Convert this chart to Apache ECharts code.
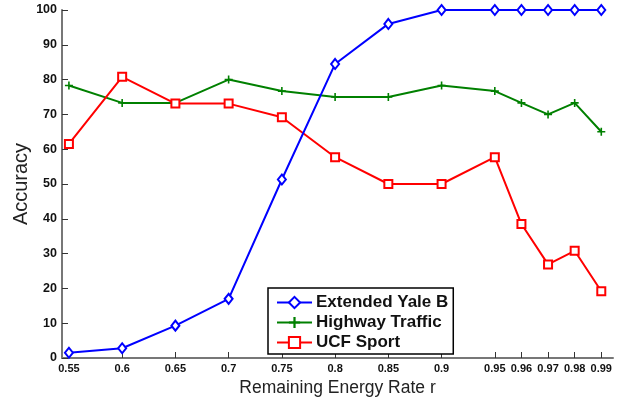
<!DOCTYPE html>
<html>
<head>
<meta charset="utf-8">
<script src="https://cdn.jsdelivr.net/npm/echarts@6/dist/echarts.min.js"></script>
<style>
  html, body { margin: 0; padding: 0; background: #fff; }
  #chart { width: 619px; height: 398px; }
</style>
</head>
<body>
<div id="chart"></div>
<script>
// x categories (rate r) and where each one sits on the axis
var rates = ['0.55', '0.6', '0.65', '0.7', '0.75', '0.8', '0.85', '0.9', '0.95', '0.96', '0.97', '0.98', '0.99']
var ratePos = [0, 1, 2, 3, 4, 5, 6, 7, 8, 8.5, 9, 9.5, 10]

var yaleB = [1.5, 2.8, 9.3, 17, 51.3, 84.5, 96, 100, 100, 100, 100, 100, 100]
var highway = [78.3, 73.3, 73.3, 80, 76.7, 75, 75, 78.3, 76.7, 73.3, 70, 73.3, 65]
var ucfSport = [61.5, 80.8, 73.1, 73.1, 69.2, 57.7, 50, 50, 57.7, 38.5, 26.9, 30.8, 19.2]

var yTicks = [0, 10, 20, 30, 40, 50, 60, 70, 80, 90, 100]

function pairs(vals) {
  var res = []
  for (var i = 0; i < vals.length; i++) {
    res.push([ratePos[i], vals[i]])
  }
  return res
}

var plusPath = 'path://M4,0 L6,0 L6,4 L10,4 L10,6 L6,6 L6,10 L4,10 L4,6 L0,6 L0,4 L4,4 Z'
var font = 'Liberation Sans, Arial, sans-serif'
var axisColor = '#777'

var myChart = echarts.init(document.getElementById('chart'))
var option = {
  backgroundColor: '#fff',
  animation: false,
  grid: { left: 62, right: 6, top: 10, bottom: 40, containLabel: false, outerBoundsMode: 'none' },
  legend: {
    orient: 'vertical',
    left: 268,
    top: 288,
    padding: [6, 5, 3, 8],
    itemWidth: 35,
    itemHeight: 14,
    itemGap: 3,
    backgroundColor: '#fff',
    borderColor: '#000',
    borderWidth: 1.5,
    borderRadius: 0,
    textStyle: { fontFamily: font, fontWeight: 'bold', fontSize: 17, color: '#111', padding: [0, 0, 0, -1] },
    data: ['Extended Yale B', 'Highway Traffic', 'UCF Sport']
  },
  xAxis: {
    type: 'value',
    min: -0.13,
    max: 10.22,
    name: 'Remaining Energy Rate r',
    nameLocation: 'middle',
    nameGap: 21,
    nameMoveOverlap: false,
    nameTextStyle: { fontFamily: font, fontSize: 17.5, color: '#222' },
    splitLine: { show: false },
    axisLine: { show: true, onZero: false, lineStyle: { color: axisColor, width: 2 } },
    axisTick: { show: true, inside: true, length: 6, customValues: ratePos, lineStyle: { color: '#333', width: 1 } },
    axisLabel: {
      customValues: ratePos,
      margin: 5,
      fontFamily: font, fontWeight: 'bold', fontSize: 11, color: '#111',
      formatter: function (v) {
        var i = ratePos.indexOf(v)
        return i >= 0 ? rates[i] : ''
      }
    }
  },
  yAxis: {
    type: 'value',
    min: 0,
    max: 100,
    name: 'Accuracy',
    nameLocation: 'middle',
    nameGap: 31,
    nameMoveOverlap: false,
    nameTextStyle: { fontFamily: font, fontSize: 20, color: '#222' },
    splitLine: { show: false },
    axisLine: { show: true, onZero: false, lineStyle: { color: axisColor, width: 2 } },
    axisTick: { show: true, inside: true, length: 6, customValues: yTicks, lineStyle: { color: '#333', width: 1 } },
    axisLabel: { customValues: yTicks, margin: 5, fontFamily: font, fontWeight: 'bold', fontSize: 12.5, color: '#111' }
  },
  series: [
    {
      name: 'Extended Yale B',
      type: 'line',
      data: pairs(yaleB),
      symbol: 'diamond',
      symbolSize: [8, 10],
      lineStyle: { color: '#0000ff', width: 2 },
      itemStyle: { color: '#fff', borderColor: '#0000ff', borderWidth: 2 },
      z: 3
    },
    {
      name: 'Highway Traffic',
      type: 'line',
      data: pairs(highway),
      symbol: plusPath,
      symbolSize: 8,
      lineStyle: { color: '#008000', width: 2 },
      itemStyle: { color: '#008000', borderWidth: 0 },
      z: 2
    },
    {
      name: 'UCF Sport',
      type: 'line',
      data: pairs(ucfSport),
      symbol: 'rect',
      symbolSize: 8,
      lineStyle: { color: '#ff0000', width: 2 },
      itemStyle: { color: '#fff', borderColor: '#ff0000', borderWidth: 2 },
      z: 2
    }
  ]
}
myChart.setOption(option)
</script>
</body>
</html>
